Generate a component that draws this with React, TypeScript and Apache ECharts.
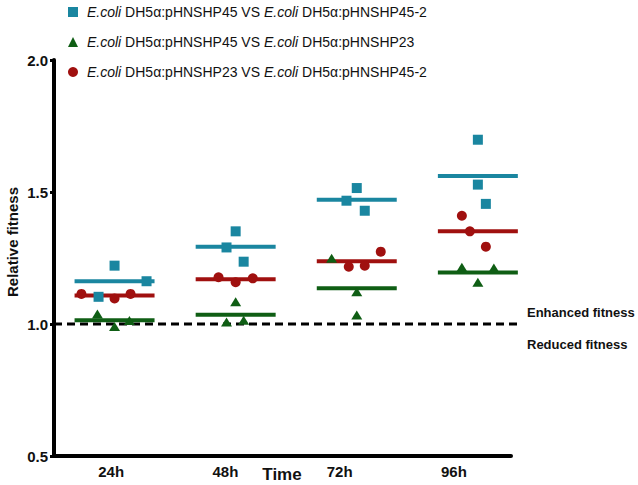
import React, { useEffect, useRef } from "react";
import * as echarts from "echarts";

const categories = ["24h", "48h", "72h", "96h"];
const seriesNames = [
  "E.coli DH5α:pHNSHP45 VS E.coli DH5α:pHNSHP45-2",
  "E.coli DH5α:pHNSHP45 VS E.coli DH5α:pHNSHP23",
  "E.coli DH5α:pHNSHP23 VS E.coli DH5α:pHNSHP45-2",
];
const xAxisTitle = "Time";
const yAxisTitle = "Relative fitness";
// replicate values per time point
const tealValues = [
  [1.103, 1.221, 1.162],
  [1.351, 1.29, 1.236],
  [1.515, 1.467, 1.429],
  [1.698, 1.528, 1.455],
];
const greenValues = [
  [1.038, 0.991, 1.013],
  [1.084, 1.008, 1.014],
  [1.249, 1.122, 1.034],
  [1.215, 1.212, 1.158],
];
const redValues = [
  [1.114, 1.097, 1.114],
  [1.177, 1.158, 1.173],
  [1.274, 1.217, 1.221],
  [1.41, 1.351, 1.293],
];
// horizontal scatter of the replicates (category units)
const tealJitter = [
  [-0.14, 0, 0.28],
  [0, -0.08, 0.07],
  [0, -0.09, 0.07],
  [0, 0, 0.07],
];
const greenJitter = [
  [-0.15, 0, 0.13],
  [0, -0.08, 0.07],
  [-0.22, 0, 0],
  [-0.14, 0.14, 0],
];
const redJitter = [
  [-0.29, 0, 0.14],
  [-0.15, 0, 0.15],
  [0.21, -0.07, 0.07],
  [-0.14, -0.07, 0.07],
];
const groupShift = [0.03, 0.09, 0.15, 0.21];
const meanHalfWidth = 0.35;
const yTicks = [0.5, 1.0, 1.5, 2.0];
const referenceValue = 1.0;
const referenceSpan = [-0.5, 3.58];

const FONT = "'Liberation Sans', Arial, sans-serif";
const TEAL = "#1a86a0";
const GREEN = "#0f5e14";
const RED = "#a0100f";

function points(values: number[][], jitter: number[][]) {
  const out: number[][] = [];
  values.forEach((reps, i) => {
    reps.forEach((v, k) => out.push([i + groupShift[i] + jitter[i][k], v]));
  });
  return out;
}

function means(values: number[][]) {
  return values.map((reps, i) => [i + groupShift[i], reps.reduce((a, b) => a + b, 0) / reps.length]);
}

export default function App() {
  const ref = useRef<HTMLDivElement>(null);
  useEffect(() => {
    if (!ref.current) return;
    const chart = echarts.init(ref.current, null, { renderer: "svg" });
    const scatter = (name: string, symbol: string, size: any, color: string, values: number[][], jitter: number[][]) => ({
      name,
      type: "scatter",
      xAxisIndex: 1,
      symbol,
      symbolSize: size,
      itemStyle: { color, opacity: 1 },
      z: 3,
      data: points(values, jitter),
    });
    const meanSeries = (name: string, color: string, values: number[][]) => ({
      name,
      type: "custom",
      xAxisIndex: 1,
      z: 2,
      silent: true,
      clip: false,
      data: means(values),
      renderItem: (_p: any, api: any) => {
        const c = api.value(0);
        const m = api.value(1);
        const a = api.coord([c - meanHalfWidth, m]);
        const b = api.coord([c + meanHalfWidth, m]);
        return {
          type: "line",
          shape: { x1: a[0], y1: a[1], x2: b[0], y2: b[1] },
          style: { stroke: color, lineWidth: 4 },
        };
      },
    });
    chart.setOption({
      animation: false,
      grid: { left: 54, right: 127, top: 60, bottom: 29, containLabel: false, outerBoundsMode: "none" },
      legend: {
        orient: "vertical",
        left: 63,
        top: 0,
        itemWidth: 10,
        itemHeight: 10,
        itemGap: 16,
        selectedMode: false,
        data: seriesNames,
        formatter: (n: string) => n.replace(/E\.coli/g, "{i|E.coli}"),
        textStyle: {
          fontFamily: FONT,
          fontSize: 14,
          color: "#111",
          padding: [0, 0, 0, 4],
          rich: { i: { fontFamily: FONT, fontSize: 14, fontStyle: "italic", color: "#111" } },
        },
      },
      xAxis: [
        {
          type: "category",
          data: categories,
          boundaryGap: true,
          axisLine: { lineStyle: { color: "#000", width: 4 } },
          axisTick: { alignWithLabel: true, length: 4, lineStyle: { color: "#000", width: 3 } },
          axisLabel: { fontFamily: FONT, fontSize: 15, fontWeight: "bold", color: "#111", margin: 8 },
          splitLine: { show: false },
        },
        {
          type: "value",
          min: -0.5,
          max: 3.5,
          show: false,
          splitLine: { show: false },
        },
      ],
      yAxis: {
        type: "value",
        min: yTicks[0],
        max: yTicks[yTicks.length - 1],
        interval: 0.5,
        axisLine: { show: true, onZero: false, lineStyle: { color: "#000", width: 4 } },
        axisTick: { show: true, length: 4, lineStyle: { color: "#000", width: 3 } },
        axisLabel: {
          fontFamily: FONT,
          fontSize: 15,
          fontWeight: "bold",
          color: "#111",
          margin: 6,
          formatter: (v: number) => v.toFixed(1),
        },
        splitLine: { show: false },
      },
      series: [
        {
          name: "reference",
          type: "custom",
          xAxisIndex: 1,
          z: 1,
          silent: true,
          clip: false,
          data: [[referenceSpan[0], referenceValue, referenceSpan[1]]],
          renderItem: (_p: any, api: any) => {
            const a = api.coord([api.value(0), api.value(1)]);
            const b = api.coord([api.value(2), api.value(1)]);
            return {
              type: "line",
              shape: { x1: a[0], y1: a[1], x2: b[0], y2: b[1] },
              style: { stroke: "#000", lineWidth: 3, lineDash: [8, 5] },
            };
          },
        },
        meanSeries("mean1", TEAL, tealValues),
        meanSeries("mean2", GREEN, greenValues),
        meanSeries("mean3", RED, redValues),
        scatter(seriesNames[0], "rect", 10, TEAL, tealValues, tealJitter),
        scatter(seriesNames[1], "triangle", [11, 9], GREEN, greenValues, greenJitter),
        scatter(seriesNames[2], "circle", 10, RED, redValues, redJitter),
      ],
      graphic: [
        {
          type: "text",
          x: 12,
          y: 242,
          rotation: Math.PI / 2,
          style: {
            text: yAxisTitle,
            fontFamily: FONT,
            fontSize: 15,
            fontWeight: "bold",
            fill: "#111",
            align: "center",
            verticalAlign: "middle",
          },
        },
        {
          type: "text",
          x: 282,
          y: 474,
          style: {
            text: xAxisTitle,
            fontFamily: FONT,
            fontSize: 17,
            fontWeight: "bold",
            fill: "#111",
            align: "center",
            verticalAlign: "middle",
          },
        },
        {
          type: "text",
          x: 527,
          y: 312,
          style: { text: "Enhanced fitness", fontFamily: FONT, fontSize: 13, fontWeight: "bold", fill: "#111", verticalAlign: "middle" },
        },
        {
          type: "text",
          x: 527,
          y: 344,
          style: { text: "Reduced fitness", fontFamily: FONT, fontSize: 13, fontWeight: "bold", fill: "#111", verticalAlign: "middle" },
        },
      ],
    });
    return () => chart.dispose();
  }, []);
  return <div ref={ref} style={{ position: "fixed", left: 0, top: 0, width: 638, height: 485, background: "#fff" }} />;
}
